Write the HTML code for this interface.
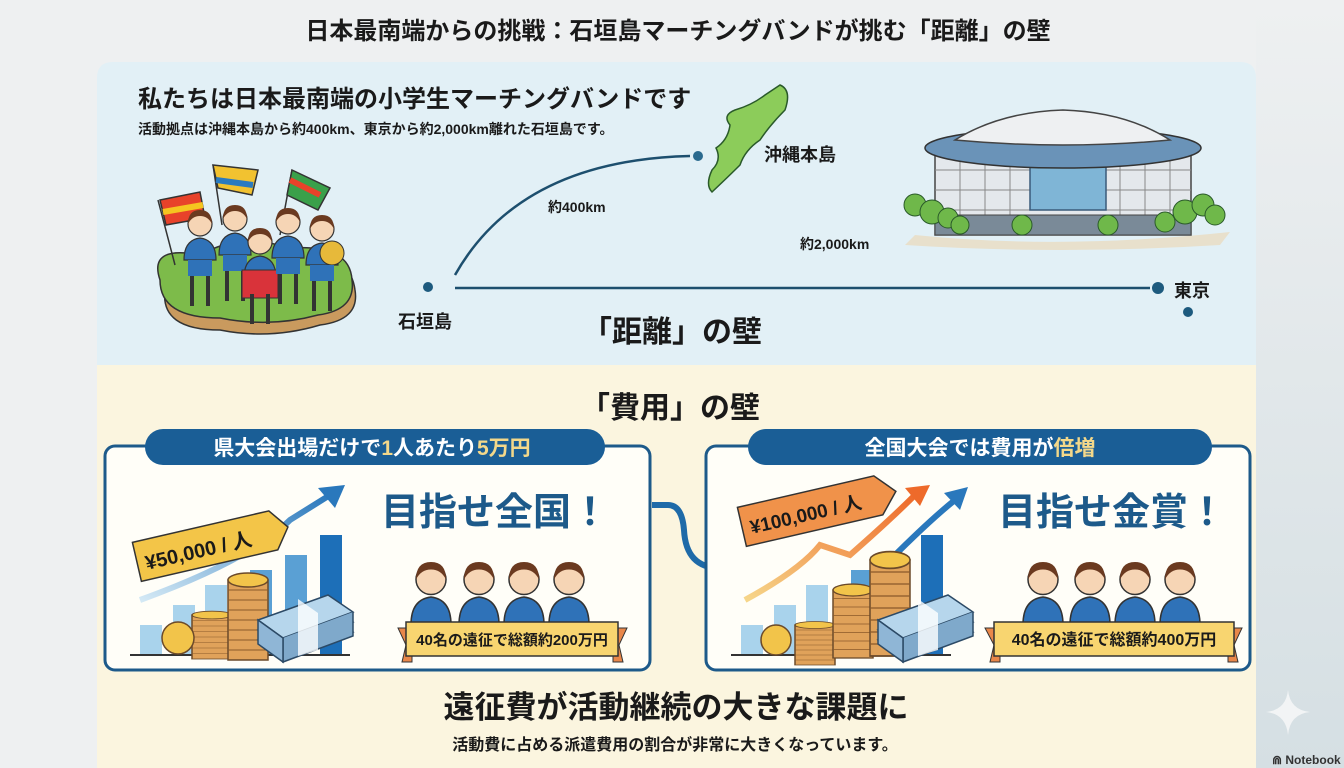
<!DOCTYPE html>
<html><head><meta charset="utf-8">
<style>
html,body{margin:0;padding:0;background:#eef0f1;}
svg{display:block}
text{font-family:"Liberation Sans","Noto Sans CJK JP",sans-serif;font-weight:bold;}
</style></head><body>
<svg width="1344" height="768" viewBox="0 0 1344 768" xmlns="http://www.w3.org/2000/svg">
<defs>
<linearGradient id="bgR" x1="0" y1="0" x2="0" y2="1">
<stop offset="0" stop-color="#eef0f1"/><stop offset="1" stop-color="#d5dfe3"/></linearGradient>
<linearGradient id="og" x1="0" y1="1" x2="1" y2="0">
<stop offset="0" stop-color="#f6d68a"/><stop offset="1" stop-color="#ee6a2a"/></linearGradient>
<linearGradient id="bg2" x1="0" y1="1" x2="1" y2="0">
<stop offset="0" stop-color="#d4e9f5"/><stop offset="1" stop-color="#2a78bc"/></linearGradient>
<g id="coinstack">
<rect x="0" y="0" width="40" height="80" fill="#e0a25a" stroke="#6b4a2a" stroke-width="1.5"/>
<path d="M0 10H40M0 20H40M0 30H40M0 40H40M0 50H40M0 60H40M0 70H40" stroke="#8a5a2a" stroke-width="1"/>
<ellipse cx="20" cy="0" rx="20" ry="7" fill="#f2c44a" stroke="#6b4a2a" stroke-width="1.5"/>
</g>
<g id="money">
<g stroke="#2c4a66" stroke-width="1.5">
<path d="M0 40 L70 15 L95 32 L25 58Z" fill="#9cc3df"/>
<path d="M0 30 L70 5 L95 22 L25 48Z" fill="#a9cde6"/>
<path d="M0 20 L70 -5 L95 12 L25 38Z" fill="#b6d6ec"/>
<path d="M25 38 L25 62 L95 36 L95 12" fill="#7fa9cb"/>
<path d="M0 20 L0 44 L25 62 L25 38Z" fill="#8fb6d6"/>
</g>
<path d="M40 -1 L60 13 L60 50 L40 56 Z" fill="#fff" opacity=".8"/>
</g>
<g id="kid">
<circle cx="20" cy="14" r="12" fill="#f6d5b5" stroke="#333" stroke-width="1.2"/>
<path d="M8 14 Q8 0 20 0 Q32 0 32 14 Q28 6 20 6 Q12 6 8 14Z" fill="#6b3a20"/>
<path d="M4 50 Q4 30 20 28 Q36 30 36 50Z" fill="#2f72b8" stroke="#333" stroke-width="1.2"/>
</g>
<g id="chart">
<g fill="#a9d3ec"><rect x="35" y="180" width="22" height="30"/><rect x="68" y="160" width="22" height="50"/><rect x="100" y="140" width="22" height="70"/></g>
<rect x="145" y="125" width="22" height="85" fill="#5aa0d4"/>
<rect x="180" y="110" width="22" height="100" fill="#5aa0d4"/>
<rect x="215" y="90" width="22" height="120" fill="#1d6fb8"/>
<line x1="25" y1="210" x2="245" y2="210" stroke="#333" stroke-width="2"/>
</g>
</defs>
<rect width="1344" height="768" fill="#eef0f1"/>
<rect x="1256" y="0" width="88" height="768" fill="url(#bgR)"/>
<path d="M97 78 Q97 62 113 62 H1240 Q1256 62 1256 78 V365 H97Z" fill="#e2f0f6"/>
<rect x="97" y="365" width="1159" height="403" fill="#fbf5df"/>
<text x="678" y="39" font-size="24" text-anchor="middle" fill="#1a1a1a">日本最南端からの挑戦：石垣島マーチングバンドが挑む「距離」の壁</text>
<text x="138" y="107" font-size="24" fill="#1a1a1a">私たちは日本最南端の小学生マーチングバンドです</text>
<text x="138" y="134" font-size="14" fill="#1a1a1a">活動拠点は沖縄本島から約400km、東京から約2,000km離れた石垣島です。</text>
<!-- band illustration -->
<path d="M165 290 Q150 250 200 262 Q240 240 290 255 Q350 250 355 290 Q360 320 320 325 Q270 340 220 330 Q160 330 165 290Z" fill="#c99a5e" stroke="#333" stroke-width="1.5"/>
<path d="M160 280 Q148 245 200 255 Q240 232 290 248 Q350 244 352 280 Q356 310 318 315 Q270 328 220 318 Q160 318 160 280Z" fill="#7dbb4a" stroke="#333" stroke-width="1.5"/>
<g stroke="#333" stroke-width="1.5">
<line x1="158" y1="200" x2="175" y2="265"/><path d="M160 200 L200 192 L205 218 L166 225Z" fill="#e8422a"/><path d="M163 212 L203 205" stroke="#f5c520" stroke-width="6"/>
<line x1="213" y1="165" x2="222" y2="225"/><path d="M213 165 L258 170 L252 195 L218 188Z" fill="#f2c230"/><path d="M216 180 L253 185" stroke="#2a7ac0" stroke-width="6"/>
<line x1="292" y1="170" x2="280" y2="235"/><path d="M292 170 L330 188 L318 210 L287 195Z" fill="#3aa04a"/><path d="M290 180 L320 195" stroke="#e8422a" stroke-width="6"/>
</g>
<g transform="translate(180 210)"><use href="#kid"/><rect x="8" y="50" width="24" height="16" fill="#2f72b8"/><path d="M12 66v30M28 66v30" stroke="#333" stroke-width="4"/></g>
<g transform="translate(215 205)"><use href="#kid"/><rect x="8" y="50" width="24" height="16" fill="#2f72b8"/><path d="M12 66v30M28 66v30" stroke="#333" stroke-width="4"/></g>
<g transform="translate(240 228)"><use href="#kid"/><rect x="2" y="42" width="36" height="28" fill="#d9333a" stroke="#333"/><path d="M12 66v30M28 66v30" stroke="#333" stroke-width="4"/></g>
<g transform="translate(268 208)"><use href="#kid"/><rect x="8" y="50" width="24" height="16" fill="#2f72b8"/><path d="M12 66v30M28 66v30" stroke="#333" stroke-width="4"/></g>
<g transform="translate(302 215)"><use href="#kid"/><circle cx="30" cy="38" r="12" fill="#e7b93a" stroke="#333"/><rect x="8" y="50" width="24" height="16" fill="#2f72b8"/><path d="M12 66v30M28 66v30" stroke="#333" stroke-width="4"/></g>
<!-- map -->
<path d="M455 275 Q520 160 690 156" fill="none" stroke="#1d4f6e" stroke-width="2.5"/>
<circle cx="698" cy="156" r="5" fill="#2a6a8e"/>
<path d="M780 85 Q792 90 785 110 Q770 125 760 140 Q745 150 740 165 Q730 175 712 192 Q705 185 712 170 Q722 160 716 148 Q728 140 730 125 Q722 115 735 110 Q752 105 765 95Z" fill="#8ccc5a" stroke="#2a5a2a" stroke-width="1.5"/>
<text x="764" y="161" font-size="18" fill="#1a1a1a">沖縄本島</text>
<text x="548" y="212" font-size="14" fill="#1a1a1a">約400km</text>
<line x1="455" y1="288" x2="1150" y2="288" stroke="#1d4f6e" stroke-width="2.5"/>
<circle cx="428" cy="287" r="5" fill="#1d5a7e"/>
<circle cx="1158" cy="288" r="6" fill="#1d5a7e"/>
<circle cx="1188" cy="312" r="5" fill="#1d5a7e"/>
<text x="398" y="328" font-size="18" fill="#1a1a1a">石垣島</text>
<text x="1174" y="297" font-size="18" fill="#1a1a1a">東京</text>
<text x="800" y="249" font-size="14" fill="#1a1a1a">約2,000km</text>
<!-- stadium -->
<path d="M915 235 Q1060 250 1230 232 L1220 245 Q1060 255 905 245Z" fill="#e8e0cc"/>
<rect x="935" y="150" width="256" height="85" fill="#e4e8ec" stroke="#444" stroke-width="1.5"/>
<path d="M960 150v70M985 150v70M1010 150v70M1120 150v70M1145 150v70M1170 150v70M935 170H1191M935 190H1191M935 210H1191" stroke="#888" stroke-width="1"/>
<rect x="1030" y="155" width="76" height="55" fill="#7fb5d6" stroke="#3a5a7a" stroke-width="1.5"/>
<rect x="935" y="215" width="256" height="20" fill="#7a8a98" stroke="#444"/>
<ellipse cx="1063" cy="148" rx="138" ry="20" fill="#6a93b8" stroke="#333" stroke-width="1.5"/>
<path d="M955 140 Q1000 112 1063 110 Q1126 112 1170 140 Q1063 150 955 140Z" fill="#eef0f2" stroke="#444" stroke-width="1.5"/>
<g fill="#6fb84a" stroke="#2a5a2a" stroke-width="1">
<circle cx="915" cy="205" r="11"/><circle cx="932" cy="212" r="12"/><circle cx="948" cy="218" r="10"/><circle cx="960" cy="225" r="9"/><circle cx="1022" cy="225" r="10"/><circle cx="1108" cy="225" r="10"/>
<circle cx="1165" cy="222" r="10"/><circle cx="1185" cy="212" r="12"/><circle cx="1203" cy="205" r="11"/><circle cx="1215" cy="215" r="10"/>
</g>
<text x="672" y="342" font-size="30" text-anchor="middle" fill="#1a1a1a">「距離」の壁</text>
<text x="670" y="418" font-size="30" text-anchor="middle" fill="#1a1a1a">「費用」の壁</text>
<!-- left box -->
<rect x="105" y="446" width="545" height="224" rx="10" fill="#fffef8" stroke="#1d5a8a" stroke-width="3"/>
<rect x="145" y="429" width="460" height="36" rx="18" fill="#1a5e96"/>
<text x="372" y="455" font-size="21" text-anchor="middle" fill="#fff" font-weight="normal">県大会出場だけで<tspan fill="#f3d88a">1</tspan>人あたり<tspan fill="#f3d88a">5万円</tspan></text>
<g transform="translate(105 445)"><use href="#chart"/></g>
<path d="M140 600 Q250 560 290 520 L330 495" fill="none" stroke="url(#bg2)" stroke-width="6"/>
<path d="M345 485 L318 488 L335 508Z" fill="#2a78bc"/>
<g transform="rotate(-13 210 545)"><path d="M135 525 H275 L290 545 L275 565 H135Z" fill="#f3c548" stroke="#333" stroke-width="1.5"/><text x="143" y="555" font-size="20" fill="#1a1a1a">¥50,000 / 人</text></g>
<g transform="translate(192 615)"><use href="#coinstack" transform="scale(1 .55)"/></g>
<g transform="translate(228 580)"><use href="#coinstack"/></g>
<circle cx="178" cy="638" r="16" fill="#f2c44a" stroke="#6b4a2a" stroke-width="1.5"/>
<g transform="translate(258 600)"><use href="#money"/></g>
<text x="495" y="525" font-size="38" text-anchor="middle" fill="#1d5a8a">目指せ全国！</text>
<g transform="translate(406 562)"><use href="#kid" transform="scale(1.25)"/></g>
<g transform="translate(454 562)"><use href="#kid" transform="scale(1.25)"/></g>
<g transform="translate(499 562)"><use href="#kid" transform="scale(1.25)"/></g>
<g transform="translate(544 562)"><use href="#kid" transform="scale(1.25)"/></g>
<path d="M398 628 H412 V662 H402 L406 645Z M627 628 H613 V662 H623 L619 645Z" fill="#e9874a" stroke="#333"/>
<rect x="406" y="622" width="212" height="34" fill="#f8d570" stroke="#333" stroke-width="1.5"/>
<text x="512" y="645" font-size="15" text-anchor="middle" fill="#1a1a1a">40名の遠征で総額約200万円</text>
<!-- connector arrow -->
<path d="M652 505 H668 Q682 505 684 530 Q686 568 720 568" fill="none" stroke="#1e6aa8" stroke-width="6"/>
<path d="M735 568 L716 556 L716 580Z" fill="#1e6aa8"/>
<!-- right box -->
<rect x="706" y="446" width="544" height="224" rx="10" fill="#fffef8" stroke="#1d5a8a" stroke-width="3"/>
<rect x="748" y="429" width="464" height="36" rx="18" fill="#1a5e96"/>
<text x="980" y="455" font-size="21" text-anchor="middle" fill="#fff" font-weight="normal">全国大会では費用が<tspan fill="#f3d88a">倍増</tspan></text>
<g transform="translate(706 445)"><use href="#chart"/></g>
<path d="M745 600 Q800 570 820 545 L850 555 Q890 520 915 495" fill="none" stroke="url(#og)" stroke-width="6"/>
<path d="M930 485 L905 488 L920 506Z" fill="#ee6a2a"/>
<path d="M890 560 Q930 520 955 500" fill="none" stroke="#2a78bc" stroke-width="6"/>
<path d="M968 487 L944 493 L960 510Z" fill="#2a78bc"/>
<g transform="rotate(-13 815 510)"><path d="M740 490 H880 L898 510 L880 530 H740Z" fill="#f0924a" stroke="#333" stroke-width="1.5"/><text x="748" y="519" font-size="19" fill="#1a1a1a">¥100,000 / 人</text></g>
<g transform="translate(795 625)"><use href="#coinstack" transform="scale(1 .5)"/></g>
<g transform="translate(833 590)"><use href="#coinstack" transform="scale(1 .85)"/></g>
<g transform="translate(870 560)"><use href="#coinstack" transform="scale(1 1.2)"/></g>
<circle cx="776" cy="640" r="15" fill="#f2c44a" stroke="#6b4a2a" stroke-width="1.5"/>
<g transform="translate(878 600)"><use href="#money"/></g>
<text x="1112" y="525" font-size="38" text-anchor="middle" fill="#1d5a8a">目指せ金賞！</text>
<g transform="translate(1018 562)"><use href="#kid" transform="scale(1.25)"/></g>
<g transform="translate(1065 562)"><use href="#kid" transform="scale(1.25)"/></g>
<g transform="translate(1110 562)"><use href="#kid" transform="scale(1.25)"/></g>
<g transform="translate(1155 562)"><use href="#kid" transform="scale(1.25)"/></g>
<path d="M985 628 H1000 V662 H990 L994 645Z M1242 628 H1228 V662 H1238 L1234 645Z" fill="#e9874a" stroke="#333"/>
<rect x="994" y="622" width="240" height="34" fill="#f8d570" stroke="#333" stroke-width="1.5"/>
<text x="1114" y="645" font-size="16" text-anchor="middle" fill="#1a1a1a">40名の遠征で総額約400万円</text>
<text x="676" y="718" font-size="31" text-anchor="middle" fill="#1a1a1a">遠征費が活動継続の大きな課題に</text>
<text x="675" y="750" font-size="16" text-anchor="middle" fill="#1a1a1a">活動費に占める派遣費用の割合が非常に大きくなっています。</text>
<path d="M1288 690 Q1290 710 1310 712 Q1290 714 1288 735 Q1286 714 1266 712 Q1286 710 1288 690Z" fill="#f2f4f5"/>
<text x="1272" y="764" font-size="12" fill="#333" font-weight="normal">⋒ Notebook</text>
</svg>
</body></html>
